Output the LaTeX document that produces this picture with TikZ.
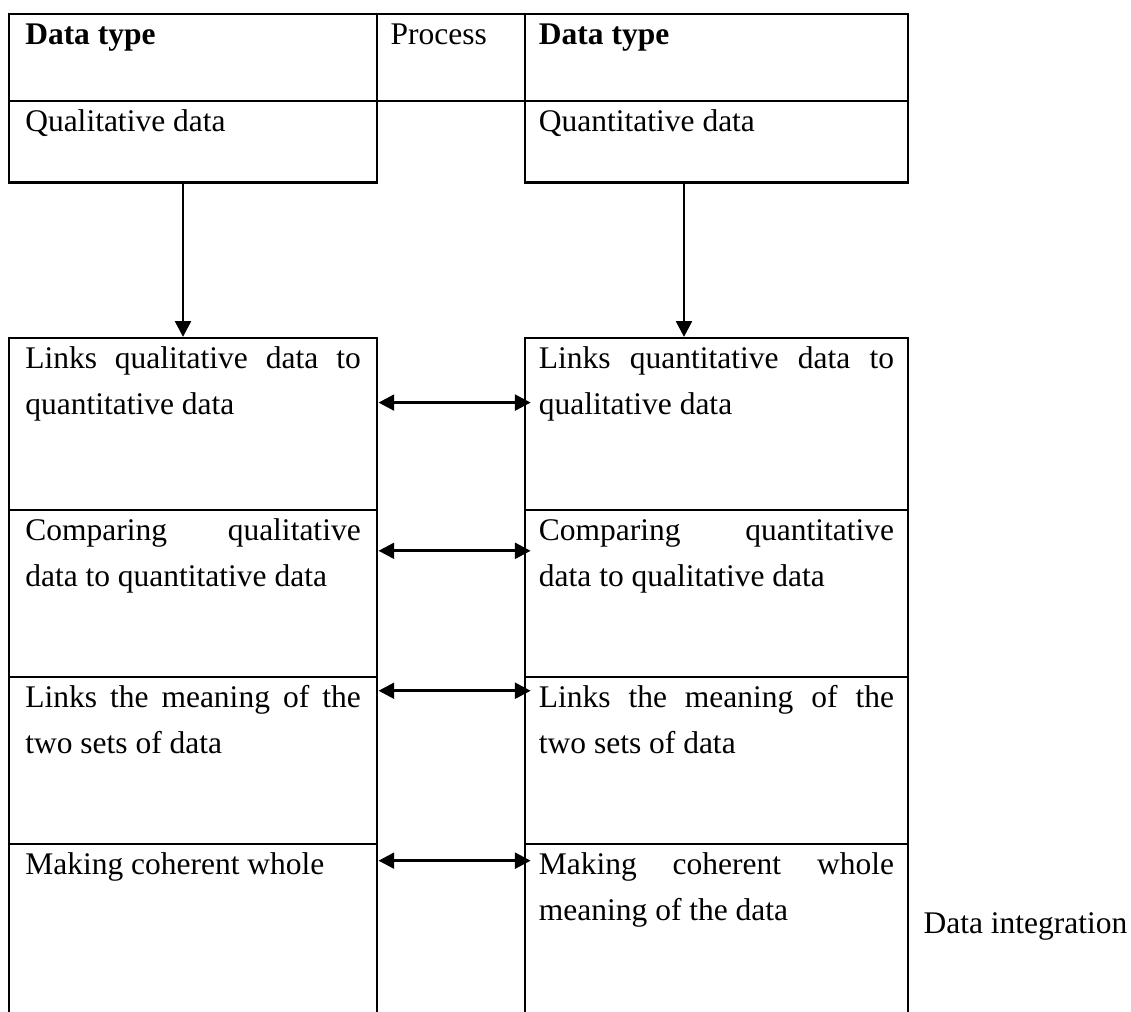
\documentclass[tikz,border=0pt]{standalone}
\usepackage{fontspec}
\setmainfont{Liberation Serif}
\usepackage{tikz}
\usetikzlibrary{calc}
\usetikzlibrary{arrows.meta}
\usetikzlibrary{positioning}
\newcommand{\cellfont}{\fontsize{12pt}{17.5pt}\selectfont\tolerance=10000\hbadness=10000}
\tikzset{
  cell/.style={draw, line width=0.85pt, outer sep=0pt, inner ysep=0pt,
               anchor=north west, align=justify, text height=11.6pt, font=\cellfont},
  colA/.style={cell, inner xsep=6.2pt, text width=127.8pt},
  colB/.style={cell, inner xsep=5.3pt, text width=135.3pt},
  arr/.style={-{Triangle[length=6pt,width=6pt]}, line width=1.1pt},
  darr/.style={{Triangle[length=6pt,width=6pt]}-{Triangle[length=6pt,width=6pt]}, line width=1.1pt}
}

\begin{document}
\begin{tikzpicture}[x=0.381pt, y=-0.381pt]
    \useasboundingbox (0,0) rectangle (1131,1012);
    % header row
    \node[colA, text depth=21.4pt] (hA) at (9,14) {\textbf{Data type}};
    \node[cell, inner xsep=5.2pt, text width=46pt, text depth=21.4pt] (hP) at (377,14) {Process};
    \node[colB, text depth=21.4pt] (hB) at (525,14) {\textbf{Data type}};
    \node[colA, text depth=19.6pt, below=0pt of hA] (qualA) {Qualitative data};
    \node[colB, text depth=19.6pt, below=0pt of hB] (qualB) {Quantitative data};
    % left column
    \node[colA, text depth=53.9pt, below=59.2pt of qualA] (linkA) {Links qualitative data to\linebreak quantitative data};
    \node[colA, text depth=52pt, below=0pt of linkA] (cmpA) {Comparing qualitative\linebreak data to quantitative data};
    \node[colA, text depth=52pt, below=0pt of cmpA] (meanA) {Links the meaning of the\linebreak two sets of data};
    \node[colA, draw=none, text depth=52.4pt, below=0pt of meanA] (makeA) {Making coherent whole};
    % right column
    \node[colB, text depth=53.9pt, below=59.2pt of qualB] (linkB) {Links quantitative data to\linebreak qualitative data};
    \node[colB, text depth=52pt, below=0pt of linkB] (cmpB) {Comparing quantitative\linebreak data to qualitative data};
    \node[colB, text depth=52pt, below=0pt of cmpB] (meanB) {Links the meaning of the\linebreak two sets of data};
    \node[colB, draw=none, text depth=52.4pt, below=0pt of meanB] (makeB) {Making coherent whole\linebreak meaning of the data};
    \node[font=\cellfont, inner sep=0pt, anchor=base west] (integ) at (923,933) {Data integration};
    % open last row
    \draw[line width=0.85pt] (makeA.north west) -- (makeA.south west);
    \draw[line width=0.85pt] (makeA.north east) -- (makeA.south east);
    \draw[line width=0.85pt] (makeB.north west) -- (makeB.south west);
    \draw[line width=0.85pt] (makeB.north east) -- (makeB.south east);
    % arrows
    \draw[arr] ($(qualA.south west)+(174,0)$) -- ($(linkA.north west)+(174,-1)$);
    \draw[arr] ($(qualB.south west)+(159,0)$) -- ($(linkB.north west)+(159,-1)$);
    \draw[darr] ($(linkA.north east)+(1.5,64.7)$) -- ($(linkB.north west)+(5.7,64.7)$);
    \draw[darr] ($(cmpA.north east)+(1.5,41)$) -- ($(cmpB.north west)+(5.7,41)$);
    \draw[darr] ($(meanA.north east)+(1.5,14)$) -- ($(meanB.north west)+(5.7,14)$);
    \draw[darr] ($(makeA.north east)+(1.5,17)$) -- ($(makeB.north west)+(5.7,17)$);
\end{tikzpicture}
\end{document}
